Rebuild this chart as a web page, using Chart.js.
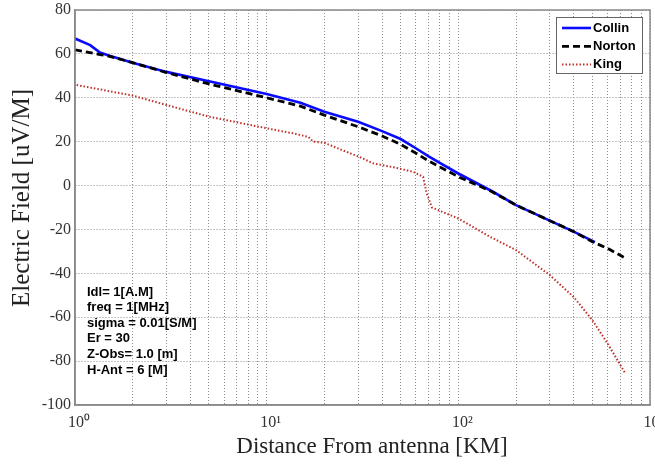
<!DOCTYPE html>
<html>
<head>
<meta charset="utf-8">
<script src="https://cdn.jsdelivr.net/npm/chart.js@4.4.1/dist/chart.umd.min.js"></script>
<style>
  html, body { margin: 0; padding: 0; background: #fff; }
  #fieldChart { display: block; }
</style>
</head>
<body>
<canvas id="fieldChart" width="655" height="464"></canvas>
<script>
// values (distance in km, field in uV/M)
const collinDist  = [1, 1.2, 1.35, 1.5, 2, 3, 5, 10, 15, 20, 30, 40, 50, 60, 70, 80, 100, 150, 200, 300, 400, 516];
const collinField = [67.0, 64.0, 60.6, 59.3, 56.0, 51.8, 47.5, 41.7, 37.7, 33.6, 29.1, 24.8, 21.2, 17.0, 13.3, 10.3, 5.5, -2.6, -8.9, -16.0, -21.0, -25.8];

const nortonDist  = [1, 1.35, 1.5, 2, 3, 5, 10, 15, 20, 30, 40, 50, 60, 70, 100, 150, 200, 300, 400, 500, 600, 731];
const nortonField = [61.8, 59.7, 59.0, 56.0, 51.5, 46.3, 40.0, 36.2, 32.1, 26.8, 22.6, 18.8, 14.8, 11.2, 4.0, -2.8, -8.9, -16.0, -21.0, -25.6, -28.6, -32.7];

const kingDist  = [1.02, 2, 3, 5, 10, 13.7, 16.5, 17.5, 20, 26, 30.6, 36, 46, 58, 65.5, 68.4, 72.8, 80, 100, 146, 200, 300, 400, 500, 600, 740];
const kingField = [45.8, 41.0, 36.7, 31.4, 26.1, 23.8, 22.2, 20.0, 19.5, 15.4, 13.0, 10.1, 8.3, 6.3, 4.0, -3.6, -10.0, -11.5, -15.0, -23.3, -29.4, -40.8, -50.8, -61.3, -71.9, -85.3];

const xMajorTicks = [1, 10, 100, 1000];
const xTickLabels = ['10\u2070', '10\u00b9', '10\u00b2', '10\u00b3'];
const yTickValues = [-100, -80, -60, -40, -20, 0, 20, 40, 60, 80];

const xTitle = 'Distance From antenna [KM]';
const yTitle = 'Electric Field [uV/M]';
const infoLines = ['Idl= 1[A.M]', 'freq = 1[MHz]', 'sigma = 0.01[S/M]', 'Er = 30', 'Z-Obs= 1.0 [m]', 'H-Ant = 6 [M]'];

// grid lines at 1..9 of every decade
const xGridValues = [];
xMajorTicks.forEach((d, i) => {
  if (i === xMajorTicks.length - 1) { xGridValues.push(d); return; }
  for (let k = 1; k < 10; k++) xGridValues.push(d * k);
});

const toPoints = (xs, ys) => xs.map((x, i) => ({x: x, y: ys[i]}));

// frame, axis titles, parameter block and boxed legend
const overlay = {
  id: 'overlay',
  afterDraw(chart) {
    const ctx = chart.ctx;
    const area = chart.chartArea;
    ctx.save();

    ctx.strokeStyle = '#8a8a8a';
    ctx.lineWidth = 1.5;
    ctx.strokeRect(area.left, area.top, area.right - area.left, area.bottom - area.top);

    ctx.fillStyle = '#222';
    ctx.textAlign = 'center';
    ctx.textBaseline = 'middle';
    ctx.font = '23px "Liberation Serif"';
    ctx.fillText(xTitle, area.left + 297, area.bottom + 42);
    ctx.save();
    ctx.translate(22, area.top + 188);
    ctx.rotate(-Math.PI / 2);
    ctx.font = '25px "Liberation Serif"';
    ctx.fillText(yTitle, 0, 0);
    ctx.restore();

    ctx.fillStyle = '#000';
    ctx.textAlign = 'left';
    ctx.font = 'bold 13px "Liberation Sans"';
    infoLines.forEach((line, i) => {
      ctx.fillText(line, area.left + 12, area.top + 282 + i * 15.6);
    });

    const box = {left: area.right - 94, top: area.top + 7, width: 86, height: 56};
    ctx.fillStyle = '#fff';
    ctx.fillRect(box.left, box.top, box.width, box.height);
    ctx.strokeStyle = '#666';
    ctx.lineWidth = 1;
    ctx.strokeRect(box.left + 0.5, box.top + 0.5, box.width, box.height);
    chart.data.datasets.forEach((ds, i) => {
      const y = box.top + 11 + i * 18.3;
      ctx.save();
      ctx.strokeStyle = ds.borderColor;
      ctx.lineWidth = ds.borderWidth;
      ctx.setLineDash(ds.borderDash || []);
      ctx.beginPath();
      ctx.moveTo(box.left + 6, y);
      ctx.lineTo(box.left + 35, y);
      ctx.stroke();
      ctx.restore();
      ctx.fillStyle = '#000';
      ctx.fillText(ds.label, box.left + 37, y);
    });

    ctx.restore();
  }
};

const ctx = document.getElementById('fieldChart').getContext('2d');
new Chart(ctx, {
  type: 'line',
  data: {
    datasets: [
      {
        label: 'Collin',
        data: toPoints(collinDist, collinField),
        borderColor: '#0a0aff',
        borderWidth: 2.6,
        pointRadius: 0,
        tension: 0,
        fill: false,
        order: 1,
      },
      {
        label: 'Norton',
        data: toPoints(nortonDist, nortonField),
        borderColor: '#000000',
        borderWidth: 2.8,
        borderDash: [7, 4],
        pointRadius: 0,
        tension: 0,
        fill: false,
        order: 0,
      },
      {
        label: 'King',
        data: toPoints(kingDist, kingField),
        borderColor: '#c0302a',
        borderWidth: 2,
        borderDash: [1.5, 2],
        pointRadius: 0,
        tension: 0,
        fill: false,
        order: 2,
      },
    ],
  },
  options: {
    responsive: false,
    animation: false,
    layout: {
      padding: {top: 10, right: 5, left: 0, bottom: 0},
    },
    plugins: {
      legend: {display: false},
      tooltip: {enabled: false},
    },
    scales: {
      x: {
        type: 'logarithmic',
        min: 1,
        max: 1000,
        afterBuildTicks: (scale) => {
          scale.ticks = xGridValues.map(v => ({value: v}));
        },
        afterFit: (scale) => {
          scale.height = 59;
          scale.paddingLeft = 0;
          scale.paddingRight = 0;
        },
        grid: {color: '#8c8c8c', lineWidth: 1, drawTicks: false},
        border: {color: '#8a8a8a', width: 1.5, dash: [1, 2]},
        ticks: {
          autoSkip: false,
          maxRotation: 0,
          padding: 8,
          labelOffset: 4,
          color: '#333',
          font: {family: 'Liberation Serif', size: 16},
          callback: (value) => {
            const i = xMajorTicks.indexOf(value);
            return i >= 0 ? xTickLabels[i] : '';
          },
        },
      },
      y: {
        min: -100,
        max: 80,
        afterBuildTicks: (scale) => {
          scale.ticks = yTickValues.map(v => ({value: v}));
        },
        afterFit: (scale) => {
          scale.width = 75;
          scale.paddingTop = 0;
          scale.paddingBottom = 0;
        },
        grid: {color: '#8c8c8c', lineWidth: 1, drawTicks: false},
        border: {color: '#8a8a8a', width: 1.5, dash: [1, 2]},
        ticks: {
          padding: 4,
          color: '#333',
          font: {family: 'Liberation Serif', size: 16},
        },
      },
    },
  },
  plugins: [overlay],
});
</script>
</body>
</html>
